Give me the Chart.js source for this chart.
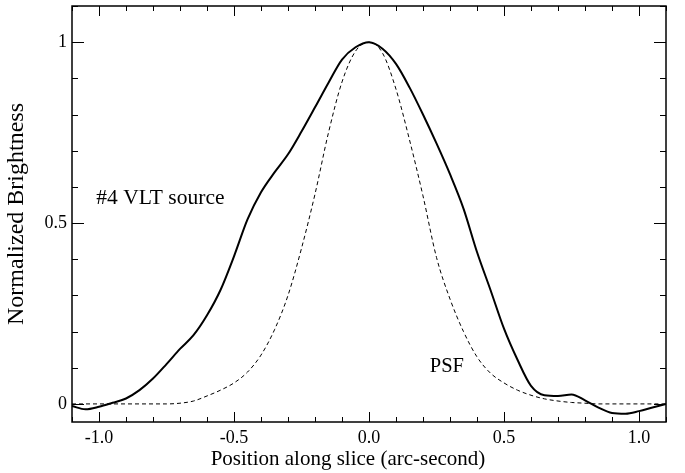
<!DOCTYPE html>
<html><head><meta charset="utf-8">
<script src="https://cdn.jsdelivr.net/npm/chart.js@4/dist/chart.umd.min.js"></script>
<style>html,body{margin:0;padding:0;background:#fff}#wrap{width:685px;height:473px}</style>
</head><body><div id="wrap"><canvas id="c" width="685" height="473"></canvas></div>
<script>
const positions = [-1.1,-1.05,-1.0,-0.95,-0.9,-0.85,-0.8,-0.75,-0.7,-0.65,-0.6,-0.55,-0.5,-0.45,-0.4,-0.35,-0.3,-0.25,-0.2,-0.15,-0.1,-0.05,0,0.05,0.1,0.15,0.2,0.25,0.3,0.35,0.4,0.45,0.5,0.55,0.6,0.65,0.7,0.75,0.8,0.85,0.9,0.95,1.0,1.05,1.1];
const sourceValues = [-0.006,-0.015,-0.008,0.003,0.015,0.038,0.07,0.11,0.152,0.19,0.245,0.315,0.408,0.51,0.585,0.64,0.69,0.753,0.82,0.888,0.952,0.986,1.0,0.982,0.94,0.875,0.8,0.72,0.635,0.54,0.42,0.315,0.208,0.122,0.05,0.024,0.022,0.026,0.01,-0.01,-0.025,-0.027,-0.02,-0.01,0.0];
const psfValues = [0,0,0,0,0,0,0,0,0.002,0.008,0.022,0.038,0.058,0.088,0.135,0.205,0.30,0.43,0.58,0.75,0.89,0.975,1.0,0.97,0.87,0.73,0.575,0.405,0.29,0.2,0.13,0.085,0.058,0.038,0.024,0.014,0.008,0.004,0.002,0,0,0,0,0,0];
const xTickValues = [-1.0,-0.5,0.0,0.5,1.0];
const xTickLabels = ["-1.0","-0.5","0.0","0.5","1.0"];
const yTickValues = [0,0.5,1];
const yTickLabels = ["0","0.5","1"];
const seriesNames = ["#4 VLT source","PSF"];
const xTitle = "Position along slice (arc-second)";
const yTitle = "Normalized Brightness";

const FONT = "'Liberation Serif','Times New Roman',serif";

const framePlugin = {
  id:'frame',
  afterDraw(chart){
    const ctx = chart.ctx, a = chart.chartArea;
    const xs = chart.scales.x, ys = chart.scales.y;
    ctx.save();
    ctx.strokeStyle = '#000';
    ctx.lineWidth = 1.5;
    ctx.strokeRect(a.left, a.top, a.right-a.left, a.bottom-a.top);
    ctx.lineWidth = 1;
    ctx.beginPath();
    for (let i=-11;i<=11;i++){
      const v=i/10; const px = Math.round(xs.getPixelForValue(v))+0.5;
      const major = (i%5===0);
      const L = major?10:5;
      ctx.moveTo(px,a.bottom); ctx.lineTo(px,a.bottom-L);
      ctx.moveTo(px,a.top); ctx.lineTo(px,a.top+L);
    }
    for (let i=0;i<=11;i++){
      const v=i/10; const py = Math.round(ys.getPixelForValue(v))+0.5;
      const major = (i%5===0);
      const L = major?12:6;
      ctx.moveTo(a.left,py); ctx.lineTo(a.left+L,py);
      ctx.moveTo(a.right,py); ctx.lineTo(a.right-L,py);
    }
    ctx.stroke();
    ctx.fillStyle='#000';
    ctx.textBaseline='middle';
    ctx.textAlign='left';
    ctx.font = "21.5px "+FONT;
    ctx.fillText(seriesNames[0], xs.getPixelForValue(-1.01), ys.getPixelForValue(0.567));
    ctx.font = "20.5px "+FONT;
    ctx.fillText(seriesNames[1], xs.getPixelForValue(0.225), ys.getPixelForValue(0.103));
    // axis titles
    ctx.font = "21px "+FONT;
    ctx.textAlign='center';
    ctx.fillText(xTitle, 348, 459);
    ctx.save();
    ctx.font = "24px "+FONT;
    ctx.translate(17, (a.top+a.bottom)/2);
    ctx.rotate(-Math.PI/2);
    ctx.fillText(yTitle, 0, 0);
    ctx.restore();
    ctx.restore();
  }
};

new Chart(document.getElementById('c'), {
  type:'line',
  data:{
    datasets:[
      {label:seriesNames[0], data:positions.map((x,i)=>({x:x,y:sourceValues[i]})), borderColor:'#000', borderWidth:2, pointRadius:0, cubicInterpolationMode:'monotone', fill:false},
      {label:seriesNames[1], data:positions.map((x,i)=>({x:x,y:psfValues[i]})), borderColor:'#000', borderWidth:1, borderDash:[4,3], pointRadius:0, cubicInterpolationMode:'monotone', fill:false}
    ]
  },
  options:{
    responsive:false, animation:false, devicePixelRatio:1,
    layout:{padding:{top:6,right:19,left:0,bottom:0}},
    plugins:{legend:{display:false},tooltip:{enabled:false}},
    scales:{
      x:{type:'linear', min:-1.1, max:1.1,
        afterBuildTicks(s){ s.ticks = xTickValues.map(v=>({value:v})); },
        afterFit(s){ s.height = 51; s.paddingLeft = 0; s.paddingRight = 0; },
        grid:{display:false, drawTicks:false},
        border:{display:false},
        ticks:{color:'#000', font:{family:FONT,size:18}, padding:5, maxRotation:0,
          callback(v){ const i = xTickValues.findIndex(t=>Math.abs(t-v)<1e-9); return i>=0?xTickLabels[i]:''; }},
        title:{display:false}
      },
      y:{type:'linear', min:-0.05, max:1.1,
        afterBuildTicks(s){ s.ticks = yTickValues.map(v=>({value:v})); },
        afterFit(s){ s.width = 72; s.paddingTop = 0; s.paddingBottom = 0; },
        grid:{display:false, drawTicks:false},
        border:{display:false},
        ticks:{color:'#000', font:{family:FONT,size:18}, padding:5,
          callback(v){ const i = yTickValues.findIndex(t=>Math.abs(t-v)<1e-9); return i>=0?yTickLabels[i]:''; }},
        title:{display:false}
      }
    }
  },
  plugins:[framePlugin]
});
</script></body></html>
